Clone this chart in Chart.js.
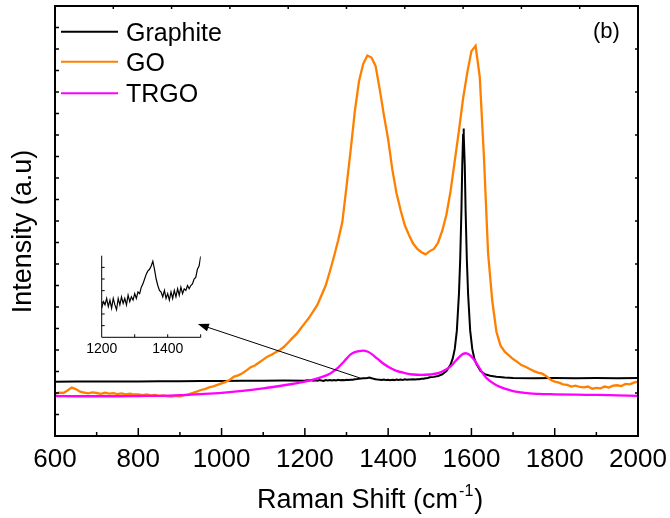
<!DOCTYPE html>
<html><head><meta charset="utf-8">
<script src="https://cdn.jsdelivr.net/npm/chart.js@4.4.1/dist/chart.umd.min.js"></script>
<style>
html,body{margin:0;padding:0;background:#fff;}
#wrap{position:relative;width:670px;height:518px;overflow:hidden;}
#main{position:absolute;left:0;top:0;}
#inset{position:absolute;left:70px;top:240px;}
</style></head><body>
<div id="wrap"><canvas id="main" width="670" height="518"></canvas><canvas id="inset" width="150" height="125"></canvas></div>
<script>
const FONT = "'Liberation Sans', Arial, Helvetica, sans-serif";
const seriesNames = ['Graphite', 'GO', 'TRGO'];
const seriesColors = ['#000000', '#ff8000', '#ff00ff'];
const xTickValues = [600, 800, 1000, 1200, 1400, 1600, 1800, 2000];
const insetTickLabels = [1200, 1400];
const panelLabel = '(b)';
const xTitle = ['Raman Shift (cm', '-1', ')'];
const yTitle = 'Intensity (a.u)';
const arrowFrom = [1332, 2.70];
const arrowTo = [943, 5.21];

const graphiteX = [600,650,700,750,800,850,900,950,1000,1050,1100,1150,
 1200,1205,1210,1215,1220,1225,1230,1235,1240,1245,1250,1255,1260,1265,1270,1275,1280,1285,1290,1295,
 1300,1305,1310,1315,1320,1325,1330,1335,1340,1345,1350,1355,1360,1365,1370,1375,1380,1385,1390,1395,
 1400,1405,1410,1415,1420,1425,1430,1435,1440,1445,1450,1455,1460,1465,1470,1475,1480,1485,1490,1495,1500,
 1510,1520,1530,1540,1550,1555,1560,1565,1570,1573,1576,1578,1580,1581,1582,1584,1586,1589,1592,1597,1602,1607,1612,1622,1632,1645,1660,1680,1700,1750,1800,1850,1900,1950,2000];
const graphiteY = [2.52,2.53,2.53,2.54,2.54,2.55,2.55,2.56,2.56,2.57,2.57,2.58,
 2.57,2.59,2.58,2.60,2.575,2.595,2.57,2.60,2.58,2.565,2.60,2.58,2.605,2.585,2.60,2.58,2.61,2.59,2.605,2.595,
 2.615,2.60,2.62,2.615,2.635,2.645,2.66,2.675,2.685,2.69,2.70,2.715,2.69,2.66,2.64,2.625,2.62,2.605,2.625,2.60,
 2.615,2.595,2.62,2.60,2.625,2.605,2.63,2.61,2.635,2.615,2.63,2.625,2.64,2.63,2.64,2.645,2.66,2.665,2.69,2.70,2.73,
 2.75,2.79,2.87,3.02,3.33,3.60,4.05,4.90,6.60,8.20,10.5,12.6,14.0,14.3,14.0,12.6,10.5,8.20,6.60,4.90,4.05,3.60,3.35,3.02,2.88,2.80,2.76,2.72,2.70,2.69,2.70,2.69,2.70,2.69,2.70];

const goStart = 600, goStep = 10;
const goY = [
 1.98,2.02,2.00,2.12,2.25,2.18,2.06,2.02,1.98,2.03,
 2.00,1.96,2.01,1.97,1.99,1.95,1.98,1.94,1.97,1.93,
 1.94,1.90,1.93,1.89,1.91,1.87,1.89,1.84,1.83,1.87,
 1.85,1.90,1.94,2.00,2.06,2.14,2.18,2.26,2.31,2.38,
 2.45,2.52,2.62,2.76,2.82,2.92,3.05,3.20,3.28,3.42,
 3.55,3.69,3.78,3.90,4.00,4.15,4.35,4.55,4.75,5.00,
 5.25,5.50,5.80,6.10,6.55,7.00,7.65,8.35,9.10,9.95,
 11.6,13.3,15.1,16.5,17.3,17.7,17.6,17.2,16.1,14.9,
 13.8,12.4,11.3,10.5,9.80,9.35,8.95,8.70,8.55,8.45,
 8.60,8.70,9.00,9.55,10.3,11.4,12.8,14.2,15.7,16.9,
 17.9,18.15,16.7,13.0,8.50,6.30,4.85,4.20,3.92,3.75,
 3.58,3.45,3.30,3.22,3.12,3.02,2.95,2.90,2.78,2.62,
 2.53,2.48,2.40,2.38,2.30,2.34,2.28,2.26,2.30,2.20,
 2.24,2.22,2.30,2.25,2.34,2.36,2.32,2.42,2.40,2.48,
 2.53];
const goX = goY.map((_, i) => goStart + i * goStep);

const trgoX = [600,650,700,750,800,850,900,950,1000,1050,1100,1150,1200,1220,1240,1260,1280,1290,1300,1310,
 1320,1330,1340,1350,1360,1370,1380,1390,1400,1420,1440,1460,1480,1500,1520,1540,1550,1560,1570,1580,
 1586,1595,1605,1615,1625,1635,1645,1660,1680,1700,1720,1740,1760,1800,1850,1900,1950,2000];
const trgoY = [1.86,1.85,1.85,1.85,1.86,1.87,1.90,1.95,2.01,2.10,2.22,2.36,2.53,2.62,2.74,2.90,3.18,3.38,3.60,3.80,
 3.90,3.95,3.97,3.93,3.82,3.66,3.50,3.35,3.22,3.03,2.93,2.86,2.84,2.86,2.92,3.10,3.24,3.45,3.66,3.82,
 3.85,3.78,3.58,3.30,2.98,2.72,2.55,2.36,2.20,2.09,2.03,1.98,1.96,1.94,1.92,1.91,1.89,1.87];

const insetRange = [1200, 1500];
const insetYRange = [2.48, 2.732];

function pts(xs, ys){ return xs.map((x, i) => ({x: x, y: ys[i]})); }
function seg(ctx, x1, y1, x2, y2){ ctx.beginPath(); ctx.moveTo(x1, y1); ctx.lineTo(x2, y2); ctx.stroke(); }

const mainPlugin = {
  id: 'mainDeco',
  beforeDraw(chart){
    const c = chart.ctx; c.save(); c.fillStyle = '#fff'; c.fillRect(0, 0, chart.width, chart.height); c.restore();
  },
  afterDatasetsDraw(chart){
    const {ctx, scales: {x, y}} = chart;
    const fx = x.getPixelForValue(arrowFrom[0]), fy = y.getPixelForValue(arrowFrom[1]);
    const tx = x.getPixelForValue(arrowTo[0]), ty = y.getPixelForValue(arrowTo[1]);
    const ang = Math.atan2(ty - fy, tx - fx), L = 11, W = 4;
    ctx.save(); ctx.strokeStyle = '#000'; ctx.fillStyle = '#000'; ctx.lineWidth = 1;
    seg(ctx, fx, fy, tx - (L - 2) * Math.cos(ang), ty - (L - 2) * Math.sin(ang));
    ctx.beginPath(); ctx.moveTo(tx, ty);
    ctx.lineTo(tx - L * Math.cos(ang) + W * Math.sin(ang), ty - L * Math.sin(ang) - W * Math.cos(ang));
    ctx.lineTo(tx - L * Math.cos(ang) - W * Math.sin(ang), ty - L * Math.sin(ang) + W * Math.cos(ang));
    ctx.closePath(); ctx.fill(); ctx.restore();
  },
  afterDraw(chart){
    const {ctx, chartArea: a, scales: {x, y}} = chart;
    ctx.save(); ctx.strokeStyle = '#000'; ctx.fillStyle = '#000';
    ctx.lineWidth = 2;
    ctx.strokeRect(a.left, a.top, a.right - a.left, a.bottom - a.top);
    ctx.lineWidth = 1.5;
    for (let v = x.min; v <= x.max; v += 100){
      const px = x.getPixelForValue(v); const len = (v % 200 === 0) ? 8 : 4;
      seg(ctx, px, a.bottom, px, a.bottom - len);
    }
    for (let i = 1; i < 10; i++){
      const px = x.getPixelForValue(x.min + i * (x.max - x.min) / 10);
      seg(ctx, px, a.top, px, a.top + 3);
    }
    for (let v = 1; v < 20; v++){
      const py = y.getPixelForValue(v);
      seg(ctx, a.left, py, a.left + 4, py);
      if (v % 2 === 0) seg(ctx, a.right, py, a.right - 3, py);
    }
    // legend
    const rows = [31.7, 61.7, 93.3];
    ctx.textAlign = 'left'; ctx.textBaseline = 'alphabetic';
    ctx.font = '25px ' + FONT;
    seriesNames.forEach((n, i) => {
      ctx.strokeStyle = seriesColors[i]; ctx.lineWidth = 2;
      seg(ctx, 61, rows[i], 118, rows[i]);
      ctx.fillStyle = '#000';
      ctx.fillText(n, 126, rows[i] + 8.8);
    });
    // panel label
    ctx.font = '22px ' + FONT;
    ctx.fillText(panelLabel, 593, 37.5);
    // x title
    ctx.font = '27px ' + FONT;
    let cx = 257; const base = 508;
    ctx.fillText(xTitle[0], cx, base); cx += ctx.measureText(xTitle[0]).width;
    ctx.font = '16px ' + FONT;
    ctx.fillText(xTitle[1], cx + 1, base - 12); cx += ctx.measureText(xTitle[1]).width + 2;
    ctx.font = '27px ' + FONT;
    ctx.fillText(xTitle[2], cx, base);
    // y title
    ctx.translate(24, 231.5); ctx.rotate(-Math.PI / 2);
    ctx.textAlign = 'center'; ctx.textBaseline = 'middle';
    ctx.fillText(yTitle, 0, 0);
    ctx.restore();
  }
};

new Chart(document.getElementById('main'), {
  type: 'line',
  data: { datasets: [
    { label: seriesNames[0], data: pts(graphiteX, graphiteY), borderColor: seriesColors[0], borderWidth: 2, pointRadius: 0, order: 3 },
    { label: seriesNames[1], data: pts(goX, goY), borderColor: seriesColors[1], borderWidth: 2.3, pointRadius: 0, order: 2 },
    { label: seriesNames[2], data: pts(trgoX, trgoY), borderColor: seriesColors[2], borderWidth: 2.3, pointRadius: 0, order: 1, cubicInterpolationMode: 'monotone' }
  ]},
  options: {
    responsive: false, animation: false, devicePixelRatio: 1, events: [],
    layout: { padding: { top: 6, right: 32, left: 0, bottom: 0 } },
    plugins: { legend: { display: false }, tooltip: { enabled: false } },
    scales: {
      x: { type: 'linear', min: 600, max: 2000,
        afterFit: s => { s.height = 82; s.paddingLeft = 0; s.paddingRight = 0; },
        afterBuildTicks: s => { s.ticks = xTickValues.map(v => ({ value: v })); },
        ticks: { font: { family: FONT, size: 26 }, color: '#000', padding: 8, maxRotation: 0, autoSkip: false, callback: v => String(v) },
        grid: { display: false, drawTicks: false }, border: { display: false } },
      y: { type: 'linear', min: 0, max: 20,
        afterFit: s => { s.width = 55; s.paddingTop = 0; s.paddingBottom = 0; },
        ticks: { display: false }, grid: { display: false, drawTicks: false }, border: { display: false } }
    }
  },
  plugins: [mainPlugin]
});

const insetPlugin = {
  id: 'insetDeco',
  afterDraw(chart){
    const {ctx, chartArea: a, scales: {x, y}} = chart;
    ctx.save(); ctx.strokeStyle = '#000'; ctx.lineWidth = 1;
    seg(ctx, a.left, a.top, a.left, a.bottom);
    seg(ctx, a.left, a.bottom, a.right, a.bottom);
    for (let v = insetRange[0] + 100; v <= insetRange[1]; v += 100){
      const px = x.getPixelForValue(v); seg(ctx, px, a.bottom, px, a.bottom - 3);
    }
    const step = (insetYRange[1] - insetYRange[0]) / 7;
    for (let i = 1; i < 7; i++){
      const py = y.getPixelForValue(insetYRange[0] + i * step); seg(ctx, a.left, py, a.left + 3, py);
    }
    ctx.restore();
  }
};
const insetIdx = graphiteX.map((v, i) => i).filter(i => graphiteX[i] >= insetRange[0] && graphiteX[i] <= insetRange[1]);
new Chart(document.getElementById('inset'), {
  type: 'line',
  data: { datasets: [{ data: insetIdx.map(i => ({ x: graphiteX[i], y: graphiteY[i] })), borderColor: '#000', borderWidth: 1.2, pointRadius: 0 }] },
  options: {
    responsive: false, animation: false, devicePixelRatio: 1, events: [],
    layout: { padding: { top: 15.7, right: 19.3, left: 0, bottom: 0 } },
    plugins: { legend: { display: false }, tooltip: { enabled: false } },
    scales: {
      x: { type: 'linear', min: insetRange[0], max: insetRange[1],
        afterFit: s => { s.height = 27.7; s.paddingLeft = 0; s.paddingRight = 0; },
        afterBuildTicks: s => { s.ticks = insetTickLabels.map(v => ({ value: v })); },
        ticks: { font: { family: FONT, size: 14 }, color: '#000', padding: 3, maxRotation: 0, autoSkip: false, callback: v => String(v) },
        grid: { display: false, drawTicks: false }, border: { display: false } },
      y: { type: 'linear', min: insetYRange[0], max: insetYRange[1],
        afterFit: s => { s.width = 31.7; s.paddingTop = 0; s.paddingBottom = 0; },
        ticks: { display: false }, grid: { display: false, drawTicks: false }, border: { display: false } }
    }
  },
  plugins: [insetPlugin]
});
</script>
</body></html>
